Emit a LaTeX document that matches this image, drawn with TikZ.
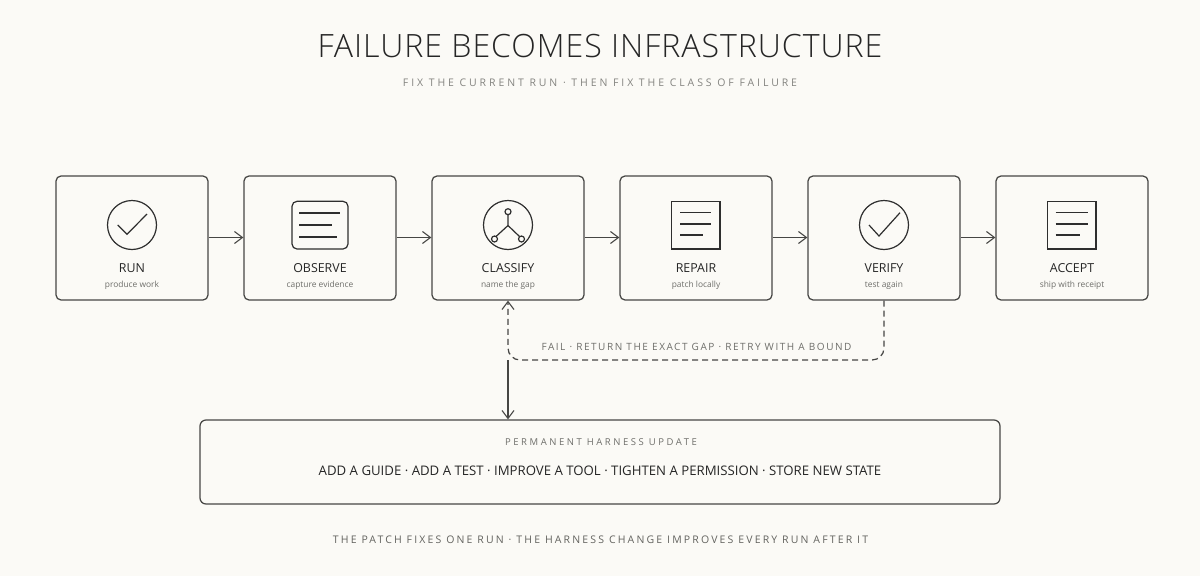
\documentclass[tikz,border=0pt]{standalone}
\usepackage{fontspec}
\setmainfont{Open Sans}[UprightFont=* Light]
\newfontfamily\reg{Open Sans}
\newfontfamily\spA{Open Sans}[LetterSpace=27.7]
\newfontfamily\spB{Open Sans}[LetterSpace=26.8]
\newfontfamily\spC{Open Sans}[LetterSpace=15.4]
\newfontfamily\spD{Open Sans}[LetterSpace=20.6]
\newfontfamily\ttl{Open Sans}[UprightFont=* Light,LetterSpace=3]
\usetikzlibrary{arrows.meta}
\definecolor{bg}{HTML}{FBFAF6}
\definecolor{ink}{HTML}{464644}
\definecolor{soft}{HTML}{6E6E6A}
\tikzset{
  x=1pt,y=-1pt,
  card/.style={draw=ink,line width=1.25pt,rounded corners=5pt,minimum width=152pt,minimum height=124pt,inner sep=0pt},
  wide/.style={draw=ink,line width=1.25pt,rounded corners=6pt,minimum width=800pt,minimum height=84pt,inner sep=0pt},
  icon/.style={draw=black!82,line width=1.2pt},
  head/.style={font=\reg\fontsize{12.4}{15}\selectfont,text=black!85,inner sep=0pt},
  sub/.style={font=\reg\fontsize{8.4}{11}\selectfont,text=soft,inner sep=0pt},
  flow/.style={draw=ink,line width=1.25pt,-{Straight Barb[length=8pt,width=12pt,line width=1.1pt]}},
}
\begin{document}
\begin{tikzpicture}
\useasboundingbox[fill=bg] (0,0) rectangle (1200,576);
\node[inner sep=0pt,font=\ttl\fontsize{32.1}{36}\selectfont,text=black!85] (title) at (600,46) {FAILURE BECOMES INFRASTRUCTURE};
\node[inner sep=0pt,font=\spA\fontsize{10.5}{13}\selectfont,text=soft!85] (subtitle) at (600,83) {FIX THE CURRENT RUN · THEN FIX THE CLASS OF FAILURE};
\foreach \n/\c in {run/132,observe/320,classify/508,repair/696,verify/884,accept/1072}
  \node[card] (\n) at (\c,238) {};
\foreach \n/\c/\h/\s in {run/132/RUN/produce work,observe/320/OBSERVE/capture evidence,classify/508/CLASSIFY/name the gap,repair/696/REPAIR/patch locally,verify/884/VERIFY/test again,accept/1072/ACCEPT/ship with receipt}{
  \node[head] (\n h) at (\c,268) {\h};
  \node[sub] (\n s) at (\c,285) {\s};
}
\foreach \a/\b in {run/observe,observe/classify,classify/repair,repair/verify,verify/accept}{
  \draw[flow] ([yshift=0.5pt]\a.east) -- ([yshift=0.5pt]\b.west);
}
% icons
\draw[icon] (132,225) circle (24.5);
\draw[icon] (117.7,225) -- (127,234.3) -- (147,214);
\draw[icon,rounded corners=5pt] (292,201.3) rectangle (348,249);
\draw[icon] (299,213) -- (340,213) (299,225) -- (332,225) (299,237) -- (337,237);
\draw[icon] (508,225) circle (24.5);
\draw[icon] (508,225.5) -- (508,215) (508,225.5) -- (496,236.5) (508,225.5) -- (519.5,236.5);
\draw[icon] (508,211.7) circle (3) (494.5,239) circle (3) (521.5,239) circle (3);
\draw[icon] (671.7,201.3) rectangle (720,249);
\draw[icon] (680,212.7) -- (711,212.7) (680,224) -- (711,224) (680,235) -- (703,235);
\draw[icon] (884,225) circle (24.5);
\draw[icon] (869,225) -- (879,236) -- (900,212.7);
\draw[icon] (1047.5,201.3) rectangle (1096,249);
\draw[icon] (1055.7,212.7) -- (1088,212.7) (1055.7,224) -- (1088,224) (1055.7,235) -- (1080,235);
% lower
\node[wide] (harness) at (600,462) {};
\node[inner sep=0pt,font=\spB\fontsize{9.5}{12}\selectfont,text=soft] (perm) at (601,442) {PERMANENT HARNESS UPDATE};
\node[inner sep=0pt,font=\reg\fontsize{13.2}{16}\selectfont,text=black!85] (items) at (600,470.5) {ADD A GUIDE · ADD A TEST · IMPROVE A TOOL · TIGHTEN A PERMISSION · STORE NEW STATE};
\node[inner sep=0pt,font=\spC\fontsize{10}{13}\selectfont,text=soft] (gapl) at (696.5,347) {FAIL · RETURN THE EXACT GAP · RETRY WITH A BOUND};
\node[inner sep=0pt,font=\spD\fontsize{10.5}{13}\selectfont,text=soft!90!black] (foot) at (600.5,540) {THE PATCH FIXES ONE RUN · THE HARNESS CHANGE IMPROVES EVERY RUN AFTER IT};
\coordinate (turn) at (508,360);
\draw[flow,dashed,dash pattern=on 6pt off 4pt,rounded corners=12pt] (verify.south) |- (turn) -- (classify.south);
\draw[flow] (turn) -- (harness.north -| turn);
\end{tikzpicture}
\end{document}
